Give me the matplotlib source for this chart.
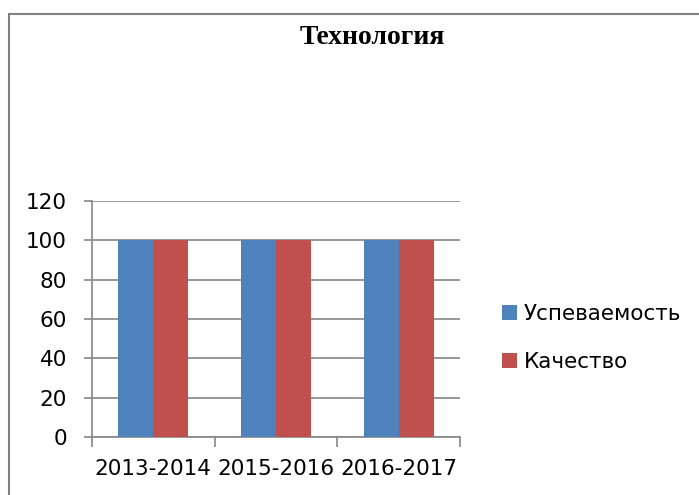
import numpy as np
import matplotlib
matplotlib.use("Agg")
from matplotlib import pyplot as plt
from matplotlib.patches import Rectangle

# chart data
years = ["2013-2014", "2015-2016", "2016-2017"]
uspev = [100, 100, 100]
kachestvo = [100, 100, 100]
series_names = ["Успеваемость", "Качество"]
colors = ["#4f81bd", "#c0504d"]
title_text = "Технология"

plt.rcParams['font.family'] = ['DejaVu Sans']

fig = plt.figure(figsize=(6.99, 4.95), dpi=100)
ax = fig.add_axes([92 / 699, 1 - 437 / 495, (460 - 92) / 699, (437 - 201) / 495])

# outer frame of the chart area (runs off the right and bottom edge)
fig.patches.append(Rectangle((8.5 / 699, -0.1), 1.2, 1 - 13.5 / 495 + 0.1,
                             transform=fig.transFigure, fill=False,
                             edgecolor="#808080", linewidth=1.5))

x = np.arange(len(years))
w = 0.285
ax.bar(x - w / 2, uspev, w, color=colors[0], label=series_names[0], zorder=3)
ax.bar(x + w / 2, kachestvo, w, color=colors[1], label=series_names[1], zorder=3)

ax.set_xlim(-0.5, len(years) - 0.5)
ax.set_ylim(0, 120)
ax.set_yticks(np.arange(0, 121, 20))
ax.yaxis.grid(True, color="#868686", linewidth=1.2, zorder=0)
ax.set_xticks(x)
ax.set_xticklabels(years, fontsize=15.5)
ax.tick_params(axis="x", length=0, pad=16)
ax.set_xticks(np.arange(-0.5, len(years)), minor=True)
ax.tick_params(axis="x", which="minor", length=7, color="#868686", width=1.2)
ax.tick_params(axis="y", labelsize=15.5, length=6, color="#868686", width=1.2, pad=12)

for s in ["top", "right"]:
    ax.spines[s].set_visible(False)
for s in ["left", "bottom"]:
    ax.spines[s].set_color("#868686")
    ax.spines[s].set_linewidth(1.2)

fig.text(372 / 699, 1 - 38 / 495, title_text, ha="center", va="center",
         fontsize=20, fontweight="bold", family="Liberation Serif")

fig.legend(loc="upper left", bbox_to_anchor=(483 / 699, 1 - 285 / 495),
           frameon=False, fontsize=15.5, handlelength=0.7, handleheight=0.7,
           handletextpad=0.3, labelspacing=1.3)

fig.savefig("out.png", dpi=100)
